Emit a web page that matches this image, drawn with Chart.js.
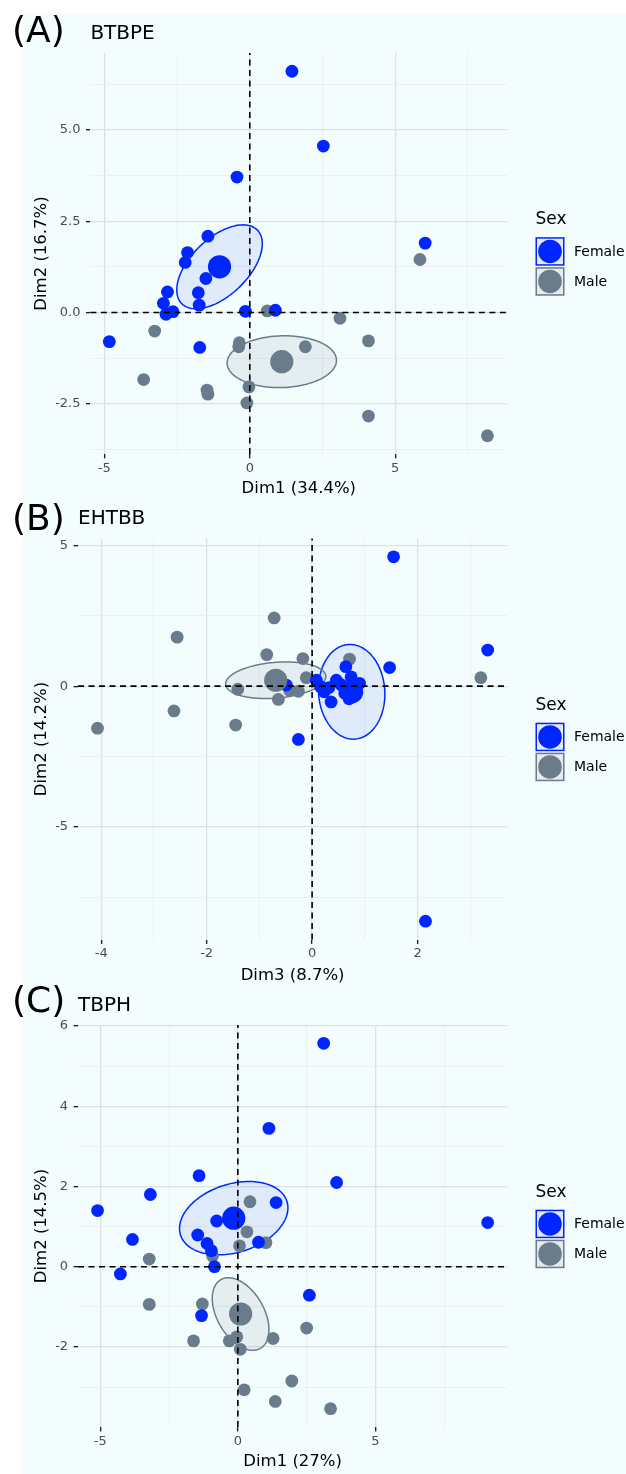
<!DOCTYPE html>
<html><head><meta charset="utf-8">
<script src="https://cdn.jsdelivr.net/npm/chart.js@4.4.1/dist/chart.umd.min.js"></script>
<style>
html,body{margin:0;padding:0;background:#ffffff;}
body{width:626px;height:1474px;position:relative;overflow:hidden;}
#bg{position:absolute;left:23px;top:13px;width:603px;height:1461px;background:#f4fdfd;}
canvas{position:absolute;left:0;}
</style></head><body>
<div id="bg"></div>
<canvas id="cA" width="626" height="500" style="top:0px;width:626px;height:500px"></canvas>
<canvas id="cB" width="626" height="495" style="top:495px;width:626px;height:495px"></canvas>
<canvas id="cC" width="626" height="514" style="top:960px;width:626px;height:514px"></canvas>
<script>
// ---------- data ----------
const SEX = ['Female', 'Male'];
const LEGEND_TITLE = 'Sex';

// (A) BTBPE : Dim1 vs Dim2
const A_tag = '(A)', A_title = 'BTBPE', A_xTitle = 'Dim1 (34.4%)', A_yTitle = 'Dim2 (16.7%)';
const A_femaleX = [1.45, 2.53, -0.44, 6.03, -1.44, -2.14, -2.22, -1.51, -2.83, -1.77, -2.97, -1.74, -2.88, -2.64, -0.15, 0.88, -4.83, -1.72];
const A_femaleY = [6.61, 4.56, 3.71, 1.90, 2.09, 1.64, 1.37, 0.93, 0.56, 0.54, 0.25, 0.20, -0.05, 0.02, 0.03, 0.06, -0.80, -0.96];
const A_maleX = [5.85, 0.60, 3.10, -3.27, 4.08, -0.36, -0.38, 1.91, -3.65, -0.03, -1.47, -1.44, -0.10, 4.08, 8.17];
const A_maleY = [1.45, 0.04, -0.16, -0.51, -0.78, -0.83, -0.94, -0.94, -1.84, -2.04, -2.13, -2.24, -2.48, -2.84, -3.38];
const A_meanX = [-1.04, 1.10];
const A_meanY = [1.25, -1.35];
const A_ellSX = [1.47, 1.88];
const A_ellSY = [1.15, 0.71];
const A_ellR = [0.55, 0.05];
const A_xTicks = [-5, 0, 5];
const A_xTickLabels = ['-5', '0', '5'];
const A_xMinor = [-2.5, 2.5, 7.5];
const A_yTicks = [-2.5, 0, 2.5, 5];
const A_yTickLabels = ['-2.5', '0.0', '2.5', '5.0'];
const A_yMinor = [-3.75, -1.25, 1.25, 3.75, 6.25];
const A_xRange = [-5.48, 8.85];
const A_yRange = [-3.88, 7.11];

// (B) EHTBB : Dim3 vs Dim2
const B_tag = '(B)', B_title = 'EHTBB', B_xTitle = 'Dim3 (8.7%)', B_yTitle = 'Dim2 (14.2%)';
const B_femaleX = [1.545, 3.33, 1.47, 0.64, 0.74, 0.08, 0.46, 0.16, -0.49, 0.23, 0.36, -0.26, 2.15, 0.55, 0.62, 0.90, 0.70, 0.32];
const B_femaleY = [4.59, 1.28, 0.66, 0.69, 0.33, 0.21, 0.21, -0.02, 0.04, -0.20, -0.56, -1.89, -8.34, 0.05, -0.25, 0.10, -0.45, -0.05];
const B_maleX = [3.20, -0.72, -2.56, -0.86, -0.175, 0.71, -0.11, -1.41, -0.43, -0.26, -0.64, -2.62, -1.45, -4.07, 0.78];
const B_maleY = [0.30, 2.42, 1.74, 1.12, 0.98, 0.96, 0.30, -0.11, -0.14, -0.18, -0.47, -0.88, -1.38, -1.49, -0.15];
const B_meanX = [0.75, -0.69];
const B_meanY = [-0.20, 0.21];
const B_ellSX = [0.63, 0.95];
const B_ellSY = [1.68, 0.65];
const B_ellR = [-0.05, 0.2];
const B_xTicks = [-4, -2, 0, 2];
const B_xTickLabels = ['-4', '-2', '0', '2'];
const B_xMinor = [-3, -1, 1, 3];
const B_yTicks = [-5, 0, 5];
const B_yTickLabels = ['-5', '0', '5'];
const B_yMinor = [-7.5, -2.5, 2.5];
const B_xRange = [-4.44, 3.70];
const B_yRange = [-8.99, 5.24];

// (C) TBPH : Dim1 vs Dim2
const C_tag = '(C)', C_title = 'TBPH', C_xTitle = 'Dim1 (27%)', C_yTitle = 'Dim2 (14.5%)';
const C_femaleX = [3.12, 1.13, -1.41, -3.18, 3.59, 1.39, -5.10, -0.77, 9.08, -3.83, -1.46, -1.12, 0.75, -0.96, -0.85, -4.27, 2.60, -1.32];
const C_femaleY = [5.57, 3.45, 2.27, 1.80, 2.10, 1.60, 1.40, 1.14, 1.10, 0.68, 0.79, 0.58, 0.61, 0.40, 0.00, -0.18, -0.71, -1.22];
const C_maleX = [0.44, 0.33, 1.02, 0.06, -0.92, -3.22, -3.22, -1.29, 2.50, 1.28, -0.04, -0.31, -1.61, 0.09, 1.96, 0.23, 1.36, 3.37];
const C_maleY = [1.62, 0.87, 0.60, 0.52, 0.27, 0.19, -0.94, -0.93, -1.53, -1.79, -1.75, -1.85, -1.85, -2.06, -2.85, -3.07, -3.36, -3.54];
const C_meanX = [-0.15, 0.10];
const C_meanY = [1.21, -1.18];
const C_ellSX = [1.97, 1.03];
const C_ellSY = [0.915, 0.905];
const C_ellR = [0.28, -0.43];
const C_xTicks = [-5, 0, 5];
const C_xTickLabels = ['-5', '0', '5'];
const C_xMinor = [-2.5, 2.5, 7.5];
const C_yTicks = [-2, 0, 2, 4, 6];
const C_yTickLabels = ['-2', '0', '2', '4', '6'];
const C_yMinor = [-3, -1, 1, 3, 5];
const C_xRange = [-5.81, 9.79];
const C_yRange = [-4.0, 6.03];

// ---------- style ----------
const FONT = "'DejaVu Sans', 'Liberation Sans', sans-serif";
const COL = ['#0026ff', '#6a7c8b'];
const ELL_FILL = ['rgba(10,40,230,0.09)', 'rgba(100,112,130,0.11)'];
const KEY_FILL = ['#e4e9f8', '#e8ebee'];
const GRID_MAJOR = '#dce1e1', GRID_MINOR = '#e8eded';
Chart.defaults.font.family = FONT;
Chart.defaults.devicePixelRatio = 1;

function pts(xs, ys) { return xs.map((x, i) => ({x: x, y: ys[i]})); }

function makePanel(id, d, L) {
  const canvas = document.getElementById(id);
  const H = canvas.height;
  const xAll = d.xTicks.concat(d.xMinor).sort((a, b) => a - b);
  const yAll = d.yTicks.concat(d.yMinor).sort((a, b) => a - b);
  const isMajor = (arr, v) => arr.indexOf(v) >= 0;

  const decor = {
    id: 'decor' + id,
    beforeDatasetsDraw(chart) {
      const ctx = chart.ctx, xs = chart.scales.x, ys = chart.scales.y, a = chart.chartArea;
      ctx.save();
      ctx.beginPath(); ctx.rect(a.left, a.top, a.right - a.left, a.bottom - a.top); ctx.clip();
      for (let g = 0; g < 2; g++) {
        const cx = d.meanX[g], cy = d.meanY[g], sx = d.ellSX[g], sy = d.ellSY[g];
        const phi = Math.acos(d.ellR[g]);
        ctx.beginPath();
        const N = 160;
        for (let i = 0; i <= N; i++) {
          const t = i / N * 2 * Math.PI;
          const px = xs.getPixelForValue(cx + sx * Math.cos(t));
          const py = ys.getPixelForValue(cy + sy * Math.cos(t - phi));
          if (i === 0) ctx.moveTo(px, py); else ctx.lineTo(px, py);
        }
        ctx.closePath();
        ctx.fillStyle = ELL_FILL[g]; ctx.fill();
        ctx.lineWidth = 1.5; ctx.strokeStyle = COL[g]; ctx.stroke();
      }
      ctx.restore();
    },
    afterDatasetsDraw(chart) {
      const ctx = chart.ctx, xs = chart.scales.x, ys = chart.scales.y, a = chart.chartArea;
      ctx.save();
      ctx.strokeStyle = '#000'; ctx.lineWidth = 1.6; ctx.setLineDash([6, 4.5]);
      const x0 = xs.getPixelForValue(0), y0 = ys.getPixelForValue(0);
      ctx.beginPath(); ctx.moveTo(x0, a.bottom); ctx.lineTo(x0, a.top); ctx.stroke();
      ctx.beginPath(); ctx.moveTo(a.left, y0); ctx.lineTo(a.right, y0); ctx.stroke();
      ctx.restore();
    },
    afterDraw(chart) {
      const ctx = chart.ctx, a = chart.chartArea;
      ctx.save();
      ctx.fillStyle = '#000'; ctx.textBaseline = 'alphabetic'; ctx.textAlign = 'left';
      ctx.font = '36px ' + FONT;
      ctx.fillText(d.tag, 12, L.tagBase);
      ctx.font = '20px ' + FONT;
      ctx.fillText(d.title, a.left, a.top - 14.2);
      // legend
      const mid = (a.top + a.bottom) / 2;
      const lx = 535.5;
      ctx.font = '17px ' + FONT; ctx.textBaseline = 'middle';
      ctx.fillText(LEGEND_TITLE, lx, mid - 33.5);
      ctx.font = '14px ' + FONT;
      for (let g = 0; g < 2; g++) {
        const top = mid - 16.3 + g * 30;
        ctx.fillStyle = KEY_FILL[g];
        ctx.fillRect(lx, top, 29, 28.5);
        ctx.lineWidth = 1.5; ctx.strokeStyle = COL[g];
        ctx.strokeRect(lx + 0.75, top + 0.75, 27.5, 27);
        ctx.beginPath(); ctx.fillStyle = COL[g];
        ctx.arc(lx + 14.5, top + 14.25, 11.8, 0, 2 * Math.PI); ctx.fill();
        ctx.fillStyle = '#000';
        ctx.fillText(SEX[g], 574, top + 15);
      }
      ctx.restore();
    }
  };

  const tickFont = {size: 13, family: FONT};
  const titleFont = {size: 16.5, family: FONT, lineHeight: 1.2};
  const gridOpts = (majors) => ({
    display: true, drawOnChartArea: true, drawTicks: true, tickLength: 4.4,
    color: c => isMajor(majors, c.tick.value) ? GRID_MAJOR : GRID_MINOR,
    lineWidth: c => isMajor(majors, c.tick.value) ? 1.3 : 0.8,
    tickColor: c => isMajor(majors, c.tick.value) ? '#222' : 'rgba(0,0,0,0)',
    tickWidth: 1.4
  });

  return new Chart(canvas, {
    type: 'scatter',
    data: {
      datasets: [
        {label: SEX[0] + ' mean', data: pts(d.meanX.slice(0, 1), d.meanY.slice(0, 1)), backgroundColor: COL[0], pointRadius: 11.6, borderWidth: 0},
        {label: SEX[1] + ' mean', data: pts(d.meanX.slice(1, 2), d.meanY.slice(1, 2)), backgroundColor: COL[1], pointRadius: 11.6, borderWidth: 0},
        {label: SEX[0], data: pts(d.femaleX, d.femaleY), backgroundColor: COL[0], pointRadius: 6.4, borderWidth: 0},
        {label: SEX[1], data: pts(d.maleX, d.maleY), backgroundColor: COL[1], pointRadius: 6.4, borderWidth: 0}
      ]
    },
    options: {
      responsive: false, animation: false, events: [],
      devicePixelRatio: 1,
      layout: {autoPadding: false, padding: {left: 0, top: L.top, right: 626 - L.right, bottom: H - L.bottom - L.xh}},
      plugins: {legend: {display: false}, tooltip: {enabled: false}, title: {display: false}},
      scales: {
        x: {
          type: 'linear', position: 'bottom', min: d.xRange[0], max: d.xRange[1],
          afterBuildTicks: ax => { ax.ticks = xAll.map(v => ({value: v})); },
          afterFit: s => { s.height = L.xh; },
          ticks: {autoSkip: false, maxRotation: 0, padding: 2.4, color: '#4d4d4d', font: tickFont,
            callback: v => { const i = d.xTicks.indexOf(v); return i >= 0 ? d.xTickLabels[i] : ''; }},
          grid: gridOpts(d.xTicks),
          border: {display: false},
          title: {display: true, text: d.xTitle, color: '#000', font: titleFont, padding: {top: 0, bottom: 0}}
        },
        y: {
          type: 'linear', position: 'left', min: d.yRange[0], max: d.yRange[1],
          afterBuildTicks: ax => { ax.ticks = yAll.map(v => ({value: v})); },
          afterFit: s => { s.width = L.left; },
          ticks: {autoSkip: false, padding: 5.5, color: '#4d4d4d', font: tickFont,
            callback: v => { const i = d.yTicks.indexOf(v); return i >= 0 ? d.yTickLabels[i] : ''; }},
          grid: gridOpts(d.yTicks),
          border: {display: false},
          title: {display: true, text: d.yTitle, color: '#000', font: titleFont, padding: {top: 32.1, bottom: 0}}
        }
      }
    },
    plugins: [decor]
  });
}

makePanel('cA', {tag: A_tag, title: A_title, xTitle: A_xTitle, yTitle: A_yTitle,
  femaleX: A_femaleX, femaleY: A_femaleY, maleX: A_maleX, maleY: A_maleY, meanX: A_meanX, meanY: A_meanY,
  ellSX: A_ellSX, ellSY: A_ellSY, ellR: A_ellR, xTicks: A_xTicks, xTickLabels: A_xTickLabels, xMinor: A_xMinor,
  yTicks: A_yTicks, yTickLabels: A_yTickLabels, yMinor: A_yMinor, xRange: A_xRange, yRange: A_yRange},
  {top: 53, bottom: 454, left: 90.4, right: 507.2, xh: 44.9, tagBase: 42});

makePanel('cB', {tag: B_tag, title: B_title, xTitle: B_xTitle, yTitle: B_yTitle,
  femaleX: B_femaleX, femaleY: B_femaleY, maleX: B_maleX, maleY: B_maleY, meanX: B_meanX, meanY: B_meanY,
  ellSX: B_ellSX, ellSY: B_ellSY, ellR: B_ellR, xTicks: B_xTicks, xTickLabels: B_xTickLabels, xMinor: B_xMinor,
  yTicks: B_yTicks, yTickLabels: B_yTickLabels, yMinor: B_yMinor, xRange: B_xRange, yRange: B_yRange},
  {top: 43.5, bottom: 444.5, left: 78, right: 507.2, xh: 46.2, tagBase: 35});

makePanel('cC', {tag: C_tag, title: C_title, xTitle: C_xTitle, yTitle: C_yTitle,
  femaleX: C_femaleX, femaleY: C_femaleY, maleX: C_maleX, maleY: C_maleY, meanX: C_meanX, meanY: C_meanY,
  ellSX: C_ellSX, ellSY: C_ellSY, ellR: C_ellR, xTicks: C_xTicks, xTickLabels: C_xTickLabels, xMinor: C_xMinor,
  yTicks: C_yTicks, yTickLabels: C_yTickLabels, yMinor: C_yMinor, xRange: C_xRange, yRange: C_yRange},
  {top: 64.9, bottom: 467.1, left: 78, right: 507.2, xh: 44.3, tagBase: 51.5});
</script>
</body></html>
